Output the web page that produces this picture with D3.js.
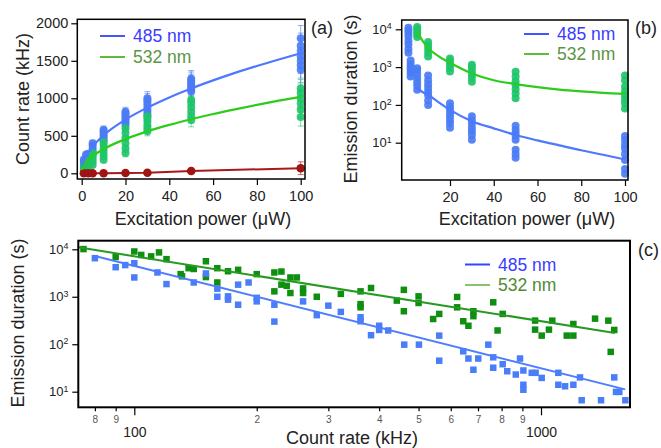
<!DOCTYPE html>
<html><head><meta charset="utf-8">
<script src="https://cdn.jsdelivr.net/npm/d3@7"></script>
<style>
body{margin:0;background:#fff}
svg{display:block}
text{font-family:"Liberation Sans",Arial,Helvetica,sans-serif}
</style>
</head><body>
<svg id="chart" width="661" height="448"></svg>
<script>
// ---------------- DATA ----------------
// Panel (a): count rate vs excitation power
const powerA = [1, 2, 3, 5, 10, 20, 30, 50, 100];
const rate485A = [
  [70, 100, 130, 160, 185],
  [130, 160, 190, 220, 250],
  [170, 200, 230, 260],
  [250, 290, 330, 370, 400],
  [440, 470, 500, 530, 560, 580],
  [645, 680, 710, 740, 770, 800, 820],
  [780, 820, 860, 900, 940, 975, 1000],
  [1090, 1120, 1150, 1180, 1210, 1240, 1260],
  [1380, 1440, 1500, 1560, 1630, 1700, 1800]
];
const err485A = [25, 30, 35, 40, 50, 60, 90, 110, 170];
const rate532A = [
  [20, 45, 70, 90],
  [50, 80, 110, 140],
  [80, 110, 140, 170],
  [110, 150, 190, 230, 270],
  [180, 230, 280, 330, 380, 420],
  [270, 330, 400, 470, 540, 600],
  [560, 600, 640, 690, 730, 760],
  [710, 760, 820, 880, 940, 980],
  [750, 850, 930, 1000, 1070, 1130]
];
const err532A = [15, 20, 25, 30, 40, 50, 60, 90, 120];
const powerRed = [1, 3, 5, 10, 20, 30, 50, 100];
const rateRed = [0, 0, 0, 0, 5, 8, 30, 68];
const errRed = [8, 8, 8, 10, 12, 12, 20, 85];
const fitAx = [0.2, 0.5, 1, 2, 3, 5, 10, 20, 30, 40, 50, 60, 70, 80, 90, 100];
const fit485A = [72, 113, 160, 226, 277, 358, 506, 716, 876, 1012, 1131, 1239, 1339, 1431, 1518, 1600];
const fit532A = [46, 72, 102, 144, 177, 228, 323, 456, 559, 645, 721, 790, 853, 912, 968, 1020];

// Panel (b): emission duration vs excitation power
const powerB485 = [1, 2, 5, 10, 20, 30, 50, 100];
const dur485B = [
  [2400, 3000, 4000, 5000, 6500, 8000, 9500, 11000],
  [560, 700, 850, 1000, 1200, 1500],
  [250, 320, 400, 500, 650, 800, 930],
  [100, 130, 180, 220, 280, 350, 450, 600],
  [25, 32, 40, 50, 60, 75, 90, 110],
  [12, 16, 20, 25, 32, 40, 50],
  [4, 5, 6.5, 12, 15, 18, 22, 28],
  [1.5, 2, 3.5, 5, 7, 9, 12, 15]
];
const powerB532 = [5, 10, 20, 30, 50, 100];
const dur532B = [
  [6300, 7500, 8500, 10000, 11500],
  [1900, 2400, 3000, 3700, 4600],
  [760, 950, 1150, 1400, 1700],
  [410, 520, 650, 800, 1000, 1150],
  [150, 200, 260, 330, 420, 560, 750],
  [80, 110, 140, 180, 230, 300, 450, 600]
];
const fitB485x = [5, 6, 8, 10, 15, 20, 30, 40, 50, 60, 70, 80, 90, 100];
const fitB485 = [275, 250, 210, 182, 115, 74, 37, 24, 16, 11.5, 8.5, 6.3, 4.8, 3.6];
const fitB532x = [5, 6, 8, 10, 15, 20, 30, 40, 50, 60, 70, 80, 90, 100];
const fitB532 = [9000, 6800, 4500, 3200, 1900, 1300, 680, 450, 355, 295, 255, 228, 208, 195];

// Panel (c): emission duration vs count rate  [count rate kHz, duration s]
const pts532C = [
  [75,10100],[90,6900],[100,9000],[104,7600],[110,7100],[115,8600],[120,6200],[130,3000],[131,2700],
  [136,4000],[140,3850],[150,5600],[150,2600],[160,4000],[160,2000],[170,3450],[180,3700],[200,3000],
  [221,3250],[221,1300],[230,3400],[230,1800],[237,1700],[242,2550],[242,1200],[251,2550],[260,1500],
  [260,1200],[281,1000],[322,1150],[360,1300],[360,700],[360,600],[382,1530],[442,830],[460,1400],
  [460,495],[500,1020],[500,740],[543,340],[562,435],[622,990],[622,600],[644,305],[663,245],[682,495],
  [682,390],[763,765],[805,435],[782,195],[967,315],[967,203],[1004,152],[1046,203],[1066,314],
  [1157,152],[1201,152],[1201,267],[1358,346],[1464,314],[1514,200],[1484,69]
];
const pts485C = [
  [80,6500],[90,4200],[95,4650],[100,5100],[100,2550],[114,3250],[120,1850],[140,2000],[150,3100],
  [160,1480],[160,1000],[170,1020],[170,870],[180,1800],[180,680],[191,2000],[200,950],[200,800],
  [221,680],[221,300],[260,800],[281,410],[300,650],[322,480],[360,370],[360,305],[382,155],[400,245],
  [400,200],[421,195],[461,98],[501,98],[562,152],[562,45],[644,71],[663,50],[682,29],[701,50],[742,98],
  [763,53],[763,32],[805,38],[826,27],[867,23],[888,50],[905,28],[905,14],[905,11],[949,25],[970,25],
  [1004,19.5],[1103,25],[1103,14],[1146,13],[1201,14],[1247,20],[1259,6.6],[1405,6.6],[1514,20],
  [1529,9.9],[1558,9.9],[1612,6.6]
];
const fitC485x = [80, 1610];
const fitC485 = [7200, 11.2];
const fitC532x = [72.8, 1520];
const fitC532 = [11000, 173];

const legendLabels = ["485 nm", "532 nm"];
const ticksA_x = [0, 20, 40, 60, 80, 100];
const ticksA_y = [0, 500, 1000, 1500, 2000];
const ticksB_x = [20, 40, 60, 80, 100];
const ticksLog = [10, 100, 1000, 10000];
const ticksC_major = [100, 1000];
const ticksC_minor = [80, 90, 200, 300, 400, 500, 600, 700, 800, 900];

// ---------------- STYLE ----------------
const C = {
  blue: "#4a7cf5", green: "#1fc46a", red: "#a01414",
  blueLine: "#4d78ff", greenLine: "#2ccc1c", redLine: "#a81818",
  blueText: "#3a3cff", greenText: "#5c9446",
  cBlue: "#4a7ef8", cGreen: "#0f8f10", cBlueLine: "#4f7dff", cGreenLine: "#279a22"
};
const svg = d3.select("#chart");
svg.append("rect").attr("width", 661).attr("height", 448).attr("fill", "#fff");

function styleAxis(g, size) {
  g.select(".domain").remove();
  g.selectAll(".tick line").attr("stroke", "#000").attr("stroke-width", 1.2);
  g.selectAll(".tick text").attr("fill", "#222").attr("font-size", size)
    .attr("font-family", '"Liberation Sans",Arial,sans-serif');
}
function supLabels(g) {
  g.selectAll(".tick text").each(function (d) {
    const t = d3.select(this);
    const e = Math.round(Math.log10(d));
    t.text("10");
    t.append("tspan").attr("dy", "-0.55em").attr("font-size", "0.68em").text(e);
  });
}
function errBar(g, x, y0, y1, color, cap) {
  g.append("line").attr("x1", x).attr("x2", x).attr("y1", y0).attr("y2", y1)
    .attr("stroke", color).attr("stroke-width", 1).attr("opacity", 0.6);
  [y0, y1].forEach(yy => g.append("line").attr("x1", x - cap).attr("x2", x + cap)
    .attr("y1", yy).attr("y2", yy).attr("stroke", color).attr("stroke-width", 1).attr("opacity", 0.6));
}
function legend(g, x, y, gap, colors, textColors) {
  legendLabels.forEach((lab, i) => {
    const yy = y + i * gap;
    g.append("line").attr("x1", x).attr("x2", x + 25).attr("y1", yy).attr("y2", yy)
      .attr("stroke", colors[i]).attr("stroke-width", 2);
    g.append("text").attr("x", x + 33).attr("y", yy + 6).attr("font-size", 17.5)
      .attr("fill", textColors[i]).text(lab);
  });
}

// ---------------- PANEL A ----------------
{
  const box = {l: 77.3, r: 305, t: 19.3, b: 179};
  const x = d3.scaleLinear([0, 100], [81.7, 300.7]);
  const y = d3.scaleLinear([0, 2000], [173.3, 23.3]);
  const g = svg.append("g");
  const ay = g.append("g").attr("transform", `translate(${box.l},0)`)
    .call(d3.axisLeft(y).tickValues(ticksA_y).tickSize(6).tickPadding(3).tickFormat(d3.format("d")));
  styleAxis(ay, 14.5);
  const ax = g.append("g").attr("transform", `translate(0,${box.b})`)
    .call(d3.axisBottom(x).tickValues(ticksA_x).tickSize(6).tickPadding(6).tickFormat(d3.format("d")));
  styleAxis(ax, 14.5);

  const series = [[rate485A, err485A, C.blue], [rate532A, err532A, C.green]];
  series.forEach(([vals, errs, col]) => {
    powerA.forEach((p, i) => {
      vals[i].forEach(v => errBar(g, x(p), y(v + errs[i]), y(v - errs[i]), col, 3));
    });
  });
  series.forEach(([vals, errs, col]) => {
    powerA.forEach((p, i) => {
      g.selectAll(null).data(vals[i]).join("circle")
        .attr("cx", x(p)).attr("cy", d => y(d)).attr("r", 4).attr("fill", col).attr("opacity", 0.9);
    });
  });
  // red
  powerRed.forEach((p, i) => errBar(g, x(p), y(rateRed[i] + errRed[i]), y(rateRed[i] - errRed[i]), C.red, 3));
  g.append("path").attr("d", d3.line().x((d, i) => x(powerRed[i])).y(d => y(d))(rateRed))
    .attr("fill", "none").attr("stroke", C.redLine).attr("stroke-width", 2);
  g.selectAll(null).data(rateRed).join("circle")
    .attr("cx", (d, i) => x(powerRed[i])).attr("cy", d => y(d)).attr("r", 4.3).attr("fill", C.red);

  const line = d3.line().curve(d3.curveMonotoneX).x((d, i) => x(fitAx[i])).y(d => y(d));
  g.append("path").attr("d", line(fit485A)).attr("fill", "none").attr("stroke", C.blueLine).attr("stroke-width", 2.2);
  g.append("path").attr("d", line(fit532A)).attr("fill", "none").attr("stroke", C.greenLine).attr("stroke-width", 2.2);

  g.append("rect").attr("x", box.l).attr("y", box.t).attr("width", box.r - box.l).attr("height", box.b - box.t)
    .attr("fill", "none").attr("stroke", "#000").attr("stroke-width", 1.5);
  legend(g, 100, 36, 21, ["#4455ff", "#5cbb3a"], [C.blueText, C.greenText]);

  g.append("text").attr("transform", "translate(29,99) rotate(-90)").attr("text-anchor", "middle")
    .attr("font-size", 18).attr("fill", "#222").text("Count rate (kHz)");
  g.append("text").attr("x", 203).attr("y", 225).attr("text-anchor", "middle")
    .attr("font-size", 18).attr("fill", "#222").text("Excitation power (μW)");
  g.append("text").attr("x", 311).attr("y", 34).attr("font-size", 18).attr("fill", "#222").text("(a)");
}

// ---------------- PANEL B ----------------
{
  const box = {l: 401.7, r: 628, t: 20, b: 180};
  const x = d3.scaleLinear([0, 100], [406.25, 625]);
  const y = d3.scaleLog([10, 10000], [142.7, 29.3]);
  const g = svg.append("g");
  const ay = g.append("g").attr("transform", `translate(${box.l},0)`)
    .call(d3.axisLeft(y).tickValues(ticksLog).tickSize(6).tickPadding(4));
  styleAxis(ay, 13);
  supLabels(ay);
  const ax = g.append("g").attr("transform", `translate(0,${box.b})`)
    .call(d3.axisBottom(x).tickValues(ticksB_x).tickSize(6).tickPadding(6).tickFormat(d3.format("d")));
  styleAxis(ax, 14.5);

  const series = [[powerB485, dur485B, C.blue], [powerB532, dur532B, C.green]];
  series.forEach(([pw, vals, col]) => pw.forEach((p, i) =>
    vals[i].forEach(v => errBar(g, x(p), y(v * 1.12), y(v / 1.12), col, 3))));
  series.forEach(([pw, vals, col]) => pw.forEach((p, i) =>
    g.selectAll(null).data(vals[i]).join("circle")
      .attr("cx", x(p)).attr("cy", d => y(d)).attr("r", 4).attr("fill", col).attr("opacity", 0.9)));

  const l485 = d3.line().curve(d3.curveMonotoneX).x((d, i) => x(fitB485x[i])).y(d => y(d));
  const l532 = d3.line().curve(d3.curveMonotoneX).x((d, i) => x(fitB532x[i])).y(d => y(d));
  g.append("path").attr("d", l485(fitB485)).attr("fill", "none").attr("stroke", C.blueLine).attr("stroke-width", 2.2);
  g.append("path").attr("d", l532(fitB532)).attr("fill", "none").attr("stroke", C.greenLine).attr("stroke-width", 2.2);

  g.append("rect").attr("x", box.l).attr("y", box.t).attr("width", box.r - box.l).attr("height", box.b - box.t)
    .attr("fill", "none").attr("stroke", "#000").attr("stroke-width", 1.5);
  legend(g, 524, 34, 20, ["#4455ff", "#5cbb3a"], [C.blueText, C.greenText]);

  g.append("text").attr("transform", "translate(357,99) rotate(-90)").attr("text-anchor", "middle")
    .attr("font-size", 18).attr("fill", "#222").text("Emission duration (s)");
  g.append("text").attr("x", 527).attr("y", 225).attr("text-anchor", "middle")
    .attr("font-size", 18).attr("fill", "#222").text("Excitation power (μW)");
  g.append("text").attr("x", 635).attr("y", 34).attr("font-size", 18).attr("fill", "#222").text("(b)");
}

// ---------------- PANEL C ----------------
{
  const box = {l: 78.3, r: 630, t: 240.7, b: 407.3};
  const x = d3.scaleLog([100, 1000], [134.3, 541]);
  const y = d3.scaleLog([10, 10000], [391.7, 249.3]);
  const g = svg.append("g");
  const ay = g.append("g").attr("transform", `translate(${box.l},0)`)
    .call(d3.axisLeft(y).tickValues(ticksLog).tickSize(6).tickPadding(4));
  styleAxis(ay, 13);
  supLabels(ay);
  const axm = g.append("g").attr("transform", `translate(0,${box.b})`)
    .call(d3.axisBottom(x).tickValues(ticksC_minor).tickSize(4).tickPadding(5)
      .tickFormat(d => String(d).replace(/0+$/, "")));
  styleAxis(axm, 10);
  axm.selectAll(".tick text").attr("fill", "#555");
  const axM = g.append("g").attr("transform", `translate(0,${box.b})`)
    .call(d3.axisBottom(x).tickValues(ticksC_major).tickSize(8).tickPadding(12).tickFormat(d3.format("d")));
  styleAxis(axM, 14);

  const sq = 6.5;
  g.selectAll(null).data(pts532C).join("rect")
    .attr("x", d => x(d[0]) - sq / 2).attr("y", d => y(d[1]) - sq / 2)
    .attr("width", sq).attr("height", sq).attr("fill", C.cGreen);
  g.selectAll(null).data(pts485C).join("rect")
    .attr("x", d => x(d[0]) - sq / 2).attr("y", d => y(d[1]) - sq / 2)
    .attr("width", sq).attr("height", sq).attr("fill", C.cBlue);

  const l485 = d3.line().x((d, i) => x(fitC485x[i])).y(d => y(d));
  const l532 = d3.line().x((d, i) => x(fitC532x[i])).y(d => y(d));
  g.append("path").attr("d", l532(fitC532)).attr("fill", "none").attr("stroke", C.cGreenLine).attr("stroke-width", 2);
  g.append("path").attr("d", l485(fitC485)).attr("fill", "none").attr("stroke", C.cBlueLine).attr("stroke-width", 2);

  g.append("rect").attr("x", box.l).attr("y", box.t).attr("width", box.r - box.l).attr("height", box.b - box.t)
    .attr("fill", "none").attr("stroke", "#000").attr("stroke-width", 2);
  legend(g, 465, 264.5, 20.5, ["#3344ff", "#88c470"], ["#3a3cff", "#4f8a33"]);

  g.append("text").attr("transform", "translate(24,323) rotate(-90)").attr("text-anchor", "middle")
    .attr("font-size", 18).attr("fill", "#222").text("Emission duration (s)");
  g.append("text").attr("x", 352).attr("y", 444).attr("text-anchor", "middle")
    .attr("font-size", 18).attr("fill", "#222").text("Count rate (kHz)");
  g.append("text").attr("x", 638).attr("y", 256).attr("font-size", 18).attr("fill", "#222").text("(c)");
}
</script>
</body></html>
